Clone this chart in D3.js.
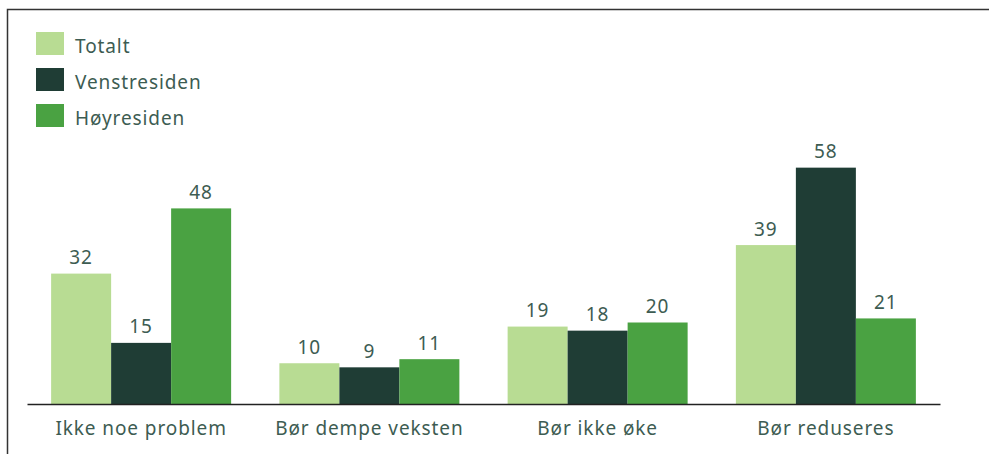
<!DOCTYPE html>
<html>
<head>
<meta charset="utf-8">
<script src="https://cdn.jsdelivr.net/npm/d3@7"></script>
<style>
  body { margin: 0; background: #fff; }
  text { font-family: "Noto Sans", "Open Sans", sans-serif; letter-spacing: 0.9px; }
</style>
</head>
<body>
<div id="chart"></div>
<script>
// data
var categories = ["Ikke noe problem", "Bør dempe veksten", "Bør ikke øke", "Bør reduseres"];
var series = ["Totalt", "Venstresiden", "Høyresiden"];
var totalt = [32, 10, 19, 39];
var venstre = [15, 9, 18, 58];
var hoyre = [48, 11, 20, 21];

var colors = ["#b8dc93", "#1f3d35", "#4aa242"];
var text_color = "#3d5c52";

var chart_width = 989;
var chart_height = 454;

var svg = d3.select("#chart")
            .append("svg")
            .attr("width", chart_width)
            .attr("height", chart_height);

// frame (top + left)
svg.append("path")
   .attr("d", "M7.5,454 L7.5,9.5 L989,9.5")
   .attr("fill", "none")
   .attr("stroke", "#333")
   .attr("stroke-width", 1.5);

var rows = series.map(function(s, i){
    return {name: s, values: [totalt, venstre, hoyre][i]};
});

var x0 = d3.scaleBand()
           .domain(categories)
           .range([27, 940])
           .paddingInner(0.2114)
           .paddingOuter(0.1057);

var x1 = d3.scaleBand()
           .domain(series)
           .range([0, x0.bandwidth()]);

var y = d3.scaleLinear()
          .domain([0, 60])
          .range([404, 159.5]);

var color = d3.scaleOrdinal().domain(series).range(colors);

var groups = svg.selectAll("g.group")
    .data(categories)
    .enter()
    .append("g")
    .attr("class", "group")
    .attr("transform", function(d){ return "translate(" + x0(d) + ",0)"; });

groups.selectAll("rect")
    .data(function(d, ci){
        return rows.map(function(r){ return {series: r.name, value: r.values[ci]}; });
    })
    .enter()
    .append("rect")
    .attr("x", function(d){ return x1(d.series); })
    .attr("y", function(d){ return y(d.value); })
    .attr("width", x1.bandwidth())
    .attr("height", function(d){ return y(0) - y(d.value); })
    .attr("fill", function(d){ return color(d.series); });

groups.selectAll("text.val")
    .data(function(d, ci){
        return rows.map(function(r){ return {series: r.name, value: r.values[ci]}; });
    })
    .enter()
    .append("text")
    .attr("class", "val")
    .attr("x", function(d){ return x1(d.series) + x1.bandwidth() / 2; })
    .attr("y", function(d){ return y(d.value) - 9.5; })
    .attr("text-anchor", "middle")
    .attr("font-size", 19)
    .attr("fill", text_color)
    .text(function(d){ return d.value; });

// x axis
var xAxis = svg.append("g")
    .attr("transform", "translate(0,404)")
    .call(d3.axisBottom(x0).tickSize(0).tickPadding(0));

xAxis.select(".domain")
     .attr("stroke", "#222")
     .attr("stroke-width", 1.5);

xAxis.selectAll("text")
     .attr("dy", null)
     .attr("y", 31)
     .attr("font-size", 19)
     .attr("font-family", "'Noto Sans', 'Open Sans', sans-serif")
     .attr("fill", text_color);

// legend
var legend = svg.selectAll("g.legend")
    .data(series)
    .enter()
    .append("g")
    .attr("class", "legend")
    .attr("transform", function(d, i){ return "translate(36," + (32 + i * 36) + ")"; });

legend.append("rect")
      .attr("width", 28)
      .attr("height", 23)
      .attr("fill", function(d){ return color(d); });

legend.append("text")
      .attr("x", 39)
      .attr("y", 21)
      .attr("font-size", 19)
      .attr("fill", text_color)
      .text(function(d){ return d; });
</script>
</body>
</html>
